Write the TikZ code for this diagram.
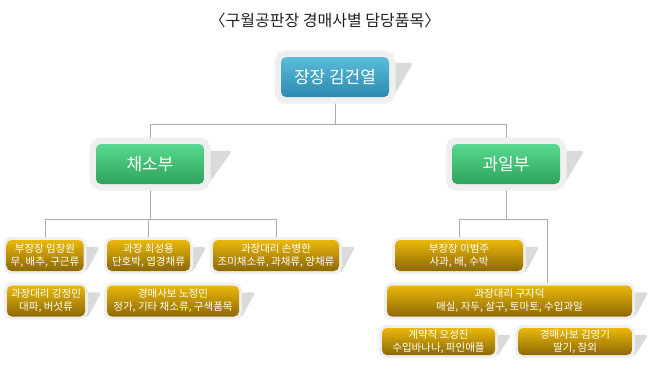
\documentclass[tikz,border=0pt]{standalone}
\usepackage{fontspec}
\setmainfont{Noto Sans CJK KR}
\usetikzlibrary{backgrounds}
\definecolor{framegray}{HTML}{EFEFEF}
\definecolor{tabgray}{HTML}{DADADA}
\definecolor{lineclr}{HTML}{ABABAB}
\definecolor{titleclr}{HTML}{222222}
\definecolor{headtop}{HTML}{5CBCDB}
\definecolor{headbot}{HTML}{2B8AAE}
\definecolor{depttop}{HTML}{58D98D}
\definecolor{deptbot}{HTML}{2EA35B}
\definecolor{stafftop}{HTML}{EAB80A}
\definecolor{staffbot}{HTML}{8C6805}

\tikzset{
  box/.style={rounded corners=5pt, inner sep=0pt, text=white, align=center},
  bigbox/.style={box, preaction={draw=framegray, line width=13pt},
    minimum width=108pt, minimum height=40pt, font=\fontsize{17}{20}\selectfont},
  headbox/.style={bigbox, top color=headtop, bottom color=headbot},
  deptbox/.style={bigbox, top color=depttop, bottom color=deptbot},
  staffbox/.style={box, preaction={draw=framegray, line width=6pt},
    top color=stafftop, bottom color=staffbot, minimum height=31pt,
    font=\fontsize{10.5}{13}\selectfont},
  conn/.style={draw=lineclr, line width=0.8pt}
}

\begin{document}
\begin{tikzpicture}[x=1pt, y=-1pt]
  \useasboundingbox (0,0) rectangle (650,373);
  %% Title
  \node[font=\fontsize{16}{19}\selectfont, text=titleclr] (title) at (325,20) {〈구월공판장 경매사별 담당품목〉};

  %% Head and departments
  \node[headbox] (head)  at (335,77)  {장장 김건열};
  \node[deptbox] (veg)   at (150,164) {채소부};
  \node[deptbox] (fruit) at (506,164) {과일부};

  % Vegetable staff
  \node[staffbox, minimum width=77pt]  (veg1) at (45,255.5)  {부장장 임장원\\무, 배추, 구근류};
  \node[staffbox, minimum width=83pt]  (veg2) at (148.5,255.5) {과장 최성용\\단호박, 엽경채류};
  \node[staffbox, minimum width=126pt] (veg3) at (276,255.5) {과장대리 손병한\\조미채소류, 과채류, 양채류};
  \node[staffbox, minimum width=78pt]  (veg4) at (46,301)    {과장대리 강정민\\대파, 버섯류};
  \node[staffbox, minimum width=132pt] (veg5) at (173,301)   {경매사보 노정민\\정가, 기타 채소류, 구색품목};

  % Fruit staff
  \node[staffbox, minimum width=128pt] (fruit1) at (459,255.5) {부장장 이범주\\사과, 배, 수박};
  \node[staffbox, minimum width=245pt] (fruit2) at (509.5,301) {과장대리 구자덕\\매실, 자두, 살구, 토마토, 수입과일};
  \node[staffbox, minimum width=113pt, minimum height=27pt] (fruit3) at (438.5,341.5) {계약직 오성진\\수입바나나, 파인애플};
  \node[staffbox, minimum width=114pt, minimum height=27pt] (fruit4) at (575,341.5) {경매사보 김영기\\딸기, 참외};

  \begin{scope}[on background layer]
    %% Shadow tabs
    \foreach \n/\w/\d in {head/24/6, veg/28/7, fruit/24/7}{
      \fill[tabgray, rounded corners=3pt] ([yshift=-\d pt]\n.north east) -- ++(\w,0)
        -- ([xshift=4pt]\n.south east) -- (\n.south east) -- cycle;
    }
    \foreach \n in {veg1, veg2, veg3, veg4, veg5, fruit1, fruit2, fruit3, fruit4}{
      \fill[tabgray, rounded corners=3pt] ([yshift=-7pt]\n.north east) -- ++(16,0)
        -- ([xshift=3pt]\n.south east) -- (\n.south east) -- cycle;
    }
    %% Connectors
    \draw[conn] (head.south) -- ++(0,27) -| (veg.north);
    \draw[conn] (head.south) -- ++(0,27) -| (fruit.north);
    \foreach \n in {veg1, veg2, veg3}
      \draw[conn] (veg.south) -- ++(0,35) -| (\n.north);
    \draw[conn] (fruit.south) -- ++(0,35) -| (fruit1.north);
    \draw[conn] (fruit.south) -- ++(0,35) -| ([xshift=38pt]fruit2.north);
  \end{scope}
\end{tikzpicture}
\end{document}
